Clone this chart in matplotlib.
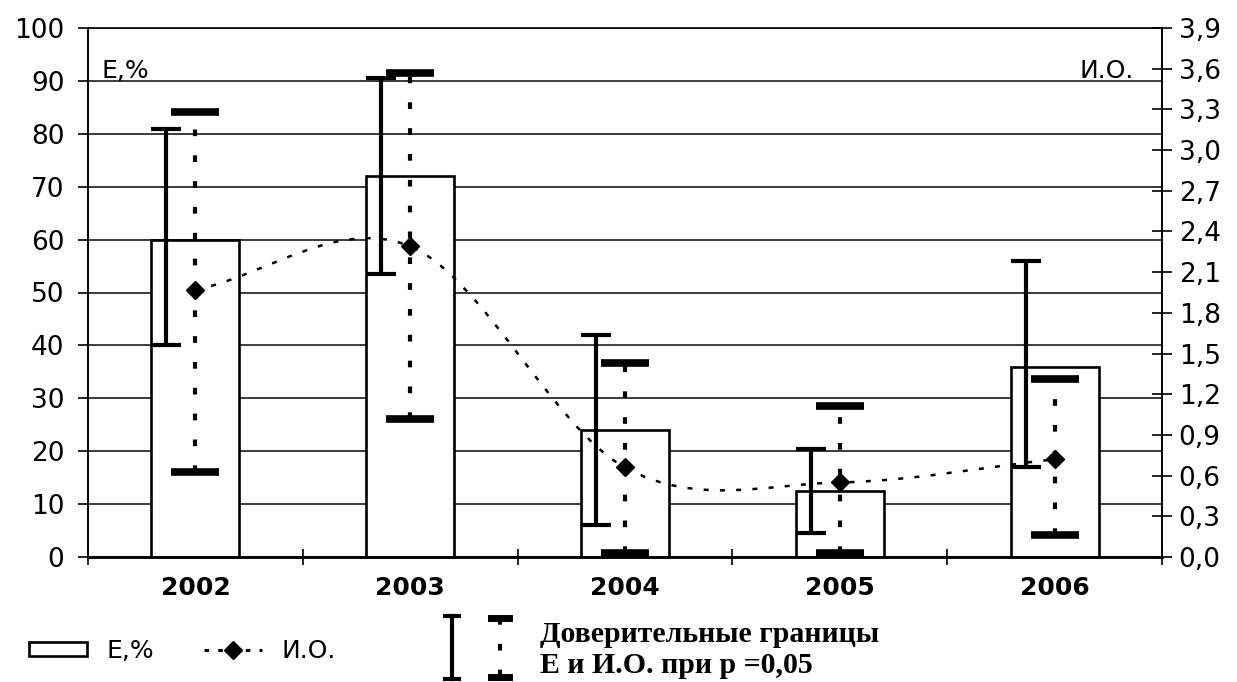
import matplotlib
matplotlib.use("Agg")
import matplotlib.pyplot as plt
import numpy as np
from matplotlib.lines import Line2D
from matplotlib.patches import PathPatch, Rectangle
from matplotlib.path import Path

years = ["2002", "2003", "2004", "2005", "2006"]
e_pct = [60, 72, 24, 12.5, 36]
e_low = [40, 53.5, 6, 4.5, 17]
e_high = [81, 90.5, 42, 20.5, 56]
io_val = [1.97, 2.29, 0.66, 0.55, 0.72]
io_low = [0.63, 1.02, 0.03, 0.03, 0.16]
io_high = [3.28, 3.57, 1.43, 1.11, 1.31]
left_ticks = list(range(0, 101, 10))
right_ticks = [round(0.3 * i, 1) for i in range(14)]

W, H = 1237, 682
plt.rcParams["font.family"] = ["DejaVu Sans"]

fig = plt.figure(figsize=(W / 100, H / 100), dpi=100)
ax = fig.add_axes([88 / W, 1 - 557 / H, (1162 - 88) / W, (557 - 28) / H])
ax2 = ax.twinx()

x = np.arange(len(years))
bar_w = 0.41
e_off = -0.135

# bars (E,%)
bars = ax.bar(x, e_pct, width=bar_w, color="white", edgecolor="black",
              linewidth=1.9, zorder=2)

# confidence limits for E
e_arr = np.array(e_pct, dtype=float)
yerr_e = [e_arr - np.array(e_low), np.array(e_high) - e_arr]
ax.errorbar(x + e_off, e_arr, yerr=yerr_e, fmt="none", ecolor="black",
            elinewidth=3.0, capsize=11, capthick=3.0, zorder=3)

# confidence limits for И.О.
io_arr = np.array(io_val)
yerr_io = [io_arr - np.array(io_low), np.array(io_high) - io_arr]
eb = ax2.errorbar(x, io_arr, yerr=yerr_io, fmt="none", ecolor="black",
                  elinewidth=3.0, capsize=17, capthick=5.5, zorder=3)
for lc in eb[2]:
    lc.set_linestyle((0, (1.6, 4.6)))

# smoothed dotted line through И.О. (Catmull-Rom style bezier)
pts = np.column_stack([x, io_arr]).astype(float)
n = len(pts)
tang = np.zeros_like(pts)
for i in range(n):
    if i == 0:
        tang[i] = pts[1] - pts[0]
    elif i == n - 1:
        tang[i] = pts[-1] - pts[-2]
    else:
        tang[i] = (pts[i + 1] - pts[i - 1]) / 2
verts = [pts[0]]
codes = [Path.MOVETO]
for i in range(n - 1):
    verts += [pts[i] + tang[i] / 3, pts[i + 1] - tang[i + 1] / 3, pts[i + 1]]
    codes += [Path.CURVE4] * 3
curve = PathPatch(Path(verts, codes), fill=False, edgecolor="black",
                  linewidth=1.8, linestyle=(0, (2, 4.5)), zorder=4)
ax2.add_patch(curve)
ax2.plot(x, io_arr, linestyle="none", marker="D", markersize=9,
         color="black", zorder=5)

# axes styling
ax.set_xlim(-0.5, len(years) - 0.5)
ax.set_ylim(0, 100)
ax2.set_ylim(0, 3.9)
ax.set_yticks(left_ticks)
ax.set_yticklabels([str(v) for v in left_ticks])
ax2.set_yticks(right_ticks)
ax2.set_yticklabels([f"{v:.1f}".replace(".", ",") for v in right_ticks])
ax.set_xticks(x)
ax.set_xticklabels(years, fontweight="bold")
ax.set_xticks(np.arange(len(years) + 1) - 0.5, minor=True)

ax.yaxis.grid(True, color="#1a1a1a", linewidth=1.2, zorder=0)
ax.set_axisbelow(True)
ax.tick_params(axis="y", direction="out", length=7, width=1.2,
               labelsize=19, pad=10)
ax.tick_params(axis="x", which="major", length=0, labelsize=18, pad=14)
ax.tick_params(axis="x", which="minor", direction="inout", length=12, width=1.2)
ax2.tick_params(axis="y", direction="inout", length=14, width=1.2,
                labelsize=19, pad=5)

for a in (ax, ax2):
    for side in ("left", "right", "top"):
        a.spines[side].set_linewidth(1.2)
    a.spines["bottom"].set_linewidth(1.8)
ax2.spines["top"].set_visible(False)

ax.text(0.013, 0.905, "Е,%", transform=ax.transAxes, fontsize=18,
        ha="left", va="baseline")
ax.text(0.9735, 0.905, "И.О.", transform=ax.transAxes, fontsize=18,
        ha="right", va="baseline")

# legend
io_handle = Line2D([], [], color="black", linestyle=(0, (1.5, 3)),
                   linewidth=2.2, marker="D", markersize=9)
bar_handle = Rectangle((0, 0), 1, 1, facecolor="white", edgecolor="black",
                       linewidth=1.9)
fig.legend([bar_handle, io_handle], ["Е,%", "И.О."], ncol=2,
           loc="center left", bbox_to_anchor=(0.0155, 1 - 651 / H),
           frameon=False, fontsize=18, handlelength=2.3, handleheight=0.5,
           handletextpad=0.8, columnspacing=2.0, borderaxespad=0)


def fx(px):
    return px / W


def fy(py):
    return 1 - py / H


fig.add_artist(Line2D([fx(452)] * 2, [fy(616), fy(679)], color="black",
                      linewidth=3.0, transform=fig.transFigure))
for py in (616, 679):
    fig.add_artist(Line2D([fx(445), fx(459)], [fy(py)] * 2, color="black",
                          linewidth=3.0, transform=fig.transFigure))
fig.add_artist(Line2D([fx(500)] * 2, [fy(618), fy(680)], color="black",
                      linewidth=3.0, linestyle=(0, (1.6, 4.6)),
                      transform=fig.transFigure))
for py in (618, 677):
    fig.add_artist(Line2D([fx(491), fx(509)], [fy(py)] * 2, color="black",
                          linewidth=5.0, transform=fig.transFigure))

fig.text(fx(540), fy(642), "Доверительные границы", fontsize=21.5,
         fontweight="bold", family=["Liberation Serif", "DejaVu Serif"],
         va="baseline", ha="left")
fig.text(fx(540), fy(673), "Е и И.О. при р =0,05", fontsize=21.5,
         fontweight="bold", family=["Liberation Serif", "DejaVu Serif"],
         va="baseline", ha="left")

fig.savefig("out.png", dpi=100)
